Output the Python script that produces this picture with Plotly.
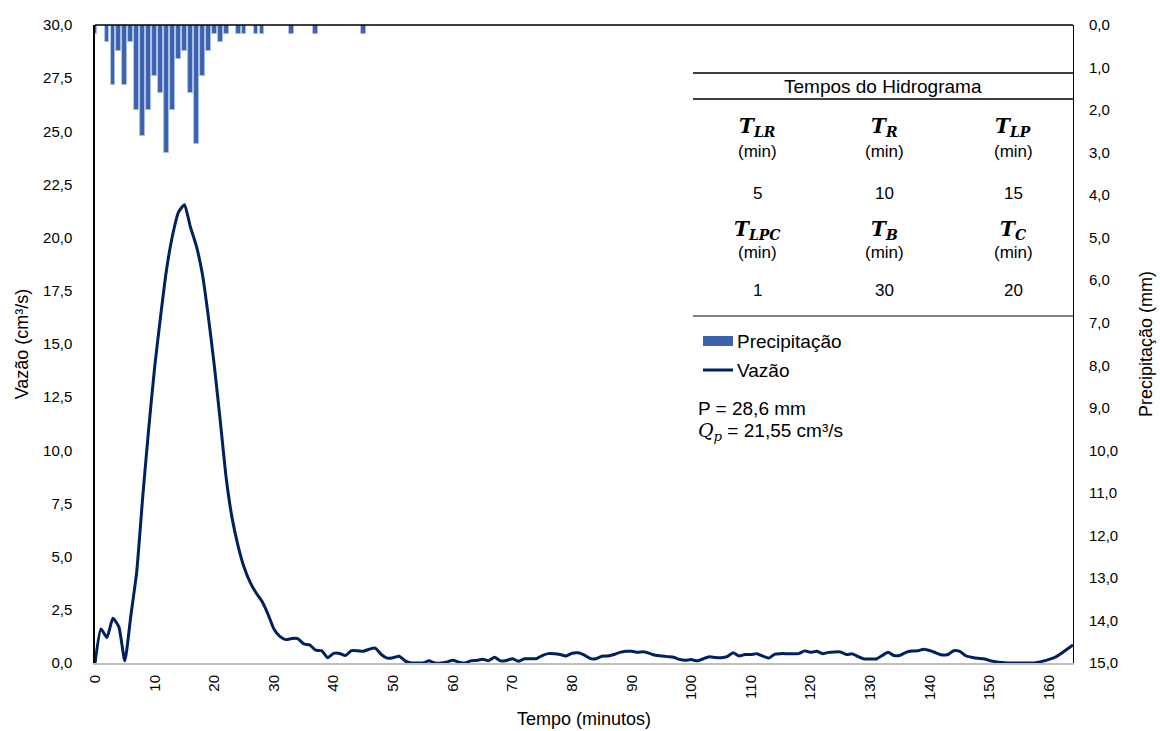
import plotly.graph_objects as go

# ---- data -------------------------------------------------------------
# Hydrograph: discharge (cm³/s) sampled every minute, 0..164 min
minutes = list(range(0, 165))
flow = [
    0.0, 1.6, 1.2, 2.1, 1.7, 0.1, 2.2, 4.3, 7.8, 11.0,          # 0-9
    13.9, 16.3, 18.5, 20.1, 21.2, 21.55, 20.5, 19.6, 18.3, 16.3,  # 10-19
    14.0, 11.4, 8.7, 6.8, 5.5, 4.5, 3.8, 3.3, 2.9, 2.3,        # 20-29
    1.6, 1.25, 1.1, 1.15, 1.15, 0.9, 0.85, 0.6, 0.58, 0.25,    # 30-39
    0.45, 0.45, 0.35, 0.58, 0.58, 0.55, 0.65, 0.7, 0.4, 0.23,  # 40-49
    0.25, 0.32, 0.1, 0.0, 0.0, 0.0, 0.1, 0.0, 0.0, 0.05,       # 50-59
    0.13, 0.04, 0.0, 0.1, 0.12, 0.18, 0.11, 0.27, 0.1, 0.12,   # 60-69
    0.2, 0.08, 0.2, 0.2, 0.2, 0.35, 0.44, 0.44, 0.4, 0.33,     # 70-79
    0.46, 0.48, 0.38, 0.22, 0.2, 0.32, 0.33, 0.4, 0.5, 0.55,   # 80-89
    0.55, 0.5, 0.53, 0.45, 0.36, 0.33, 0.3, 0.27, 0.17, 0.13,  # 90-99
    0.16, 0.1, 0.2, 0.29, 0.26, 0.25, 0.3, 0.48, 0.33, 0.4,    # 100-109
    0.4, 0.44, 0.32, 0.23, 0.42, 0.44, 0.44, 0.44, 0.44, 0.57, # 110-119
    0.5, 0.55, 0.44, 0.5, 0.52, 0.52, 0.4, 0.43, 0.3, 0.19,    # 120-129
    0.19, 0.19, 0.35, 0.5, 0.35, 0.36, 0.5, 0.56, 0.58, 0.65,  # 130-139
    0.58, 0.48, 0.38, 0.4, 0.58, 0.55, 0.34, 0.27, 0.22, 0.2,  # 140-149
    0.12, 0.06, 0.02, 0.0, 0.0, 0.0, 0.0, 0.0, 0.03, 0.09,     # 150-159
    0.17, 0.27, 0.45, 0.65, 0.85,                              # 160-164
]

# Rainfall (mm) per minute
rain_minutes = [0, 2, 3, 4, 5, 6, 7, 8, 9, 10, 11, 12, 13, 14, 15, 16, 17,
                18, 19, 20, 21, 22, 24, 25, 27, 28, 33, 37, 45]
rain_mm = [0.2, 0.4, 1.4, 0.6, 1.4, 0.4, 2.0, 2.6, 2.0, 1.2, 1.6, 3.0, 2.0,
           0.8, 0.6, 1.6, 2.8, 1.2, 0.6, 0.2, 0.4, 0.2, 0.2, 0.2, 0.2, 0.2,
           0.2, 0.2, 0.2]

# Hydrograph time parameters (min)
table_header = "Tempos do Hidrograma"
time_symbols = [["LR", "R", "LP"], ["LPC", "B", "C"]]
time_values = [[5, 10, 15], [1, 30, 20]]

x_ticks = list(range(0, 161, 10))

# ---- styling ----------------------------------------------------------
FONT = "Liberation Sans, Arial, sans-serif"
SERIF = "DejaVu Serif, Cambria, serif"
BAR_COLOR = "#3a62ad"
LINE_COLOR = "#002060"

W, H = 1160, 731
ML, MR, MT, MB = 95, 87, 25, 68
PW, PH = W - ML - MR, H - MT - MB


def px_x(px):
    return (px - ML) / PW


def px_y(py):
    return (H - MB - py) / PH


def comma(v, nd):
    return f"{v:.{nd}f}".replace(".", ",")


fig = go.Figure()

fig.add_trace(go.Bar(
    x=rain_minutes, y=rain_mm, yaxis="y2", name="Precipitação",
    width=0.8, marker=dict(color=BAR_COLOR, line=dict(color="#b4c6e7", width=0.8)),
    showlegend=False,
))

fig.add_trace(go.Scatter(
    x=minutes, y=flow, mode="lines", name="Vazão",
    line=dict(color=LINE_COLOR, width=3, shape="spline", smoothing=0.5),
    showlegend=False,
))

fig.update_layout(
    width=W, height=H,
    margin=dict(l=ML, r=MR, t=MT, b=MB, pad=0, autoexpand=False),
    paper_bgcolor="white", plot_bgcolor="white",
    separators=",.",
    font=dict(family=FONT, size=15, color="#000"),
    bargap=0,
    xaxis=dict(
        range=[0, 164], tickvals=x_ticks, tickangle=-90,
        showgrid=False, zeroline=False, automargin=False,
        showline=True, linecolor="#bfbfbf", linewidth=2,
        ticks="", ticklabelstandoff=4,
        tickfont=dict(size=15),
        title=dict(text="Tempo (minutos)", font=dict(size=18), standoff=13),
    ),
    yaxis=dict(
        range=[0, 30], dtick=2.5, tickformat=".1f",
        showgrid=False, zeroline=False, automargin=False,
        showline=True, linecolor="#000", linewidth=1.5,
        ticks="", ticklabelstandoff=18,
        tickfont=dict(size=15),
        title=dict(text="Vazão (cm³/s)", font=dict(size=18), standoff=10),
    ),
    yaxis2=dict(
        range=[15, 0], dtick=1, tickformat=".1f",
        overlaying="y", side="right",
        showgrid=False, zeroline=False, automargin=False,
        showline=True, linecolor="#000", linewidth=1,
        ticks="", ticklabelstandoff=12,
        tickfont=dict(size=15),
        title=dict(text="Precipitação (mm)", font=dict(size=18), standoff=22),
    ),
)

shapes = []
annotations = []

# top border of the plot area
shapes.append(dict(type="line", xref="paper", yref="paper", x0=0, x1=1, y0=1, y1=1,
                   line=dict(color="#000", width=1.5)))

# table rules
for py, lw in [(73, 1.5), (99, 1.5), (316, 1)]:
    shapes.append(dict(type="line", xref="paper", yref="paper",
                       x0=px_x(693), x1=px_x(1073), y0=px_y(py), y1=px_y(py),
                       line=dict(color="#000", width=lw)))

annotations.append(dict(text=table_header, x=px_x(883), y=px_y(87),
                        xref="paper", yref="paper", showarrow=False,
                        font=dict(size=19), xanchor="center", yanchor="middle"))

col_x = [757, 884, 1013]
row_sym_y = [127, 230]
row_min_y = [151, 253]
row_val_y = [193, 291]
for r in range(2):
    for c in range(3):
        sym = f"<b><i>T</i></b><sub><b><i>{time_symbols[r][c]}</i></b></sub>"
        annotations.append(dict(text=sym, x=px_x(col_x[c]), y=px_y(row_sym_y[r]),
                                xref="paper", yref="paper", showarrow=False,
                                font=dict(family=SERIF, size=20),
                                xanchor="center", yanchor="middle"))
        annotations.append(dict(text="(min)", x=px_x(col_x[c]), y=px_y(row_min_y[r]),
                                xref="paper", yref="paper", showarrow=False,
                                font=dict(size=17), xanchor="center", yanchor="middle"))
        annotations.append(dict(text=str(time_values[r][c]), x=px_x(col_x[c]),
                                y=px_y(row_val_y[r]), xref="paper", yref="paper",
                                showarrow=False, font=dict(size=17),
                                xanchor="center", yanchor="middle"))

# legend
shapes.append(dict(type="rect", xref="paper", yref="paper",
                   x0=px_x(703), x1=px_x(733), y0=px_y(346), y1=px_y(336),
                   fillcolor=BAR_COLOR, line=dict(width=0)))
shapes.append(dict(type="line", xref="paper", yref="paper",
                   x0=px_x(703), x1=px_x(733), y0=px_y(370), y1=px_y(370),
                   line=dict(color=LINE_COLOR, width=3)))
for label, py in [("Precipitação", 341), ("Vazão", 370)]:
    annotations.append(dict(text=label, x=px_x(735), y=px_y(py),
                            xref="paper", yref="paper", showarrow=False,
                            font=dict(size=19), xanchor="left", yanchor="middle"))

# summary values
p_total = sum(rain_mm)
q_peak = max(flow)
annotations.append(dict(text=f"P = {comma(p_total, 1)} mm", x=px_x(696), y=px_y(408),
                        xref="paper", yref="paper", showarrow=False,
                        font=dict(size=19), xanchor="left", yanchor="middle"))
annotations.append(dict(
    text=(f"<span style='font-family:{SERIF}'><i>Q</i><sub><i>p</i></sub></span>"
          f" = {comma(q_peak, 2)} cm³/s"),
    x=px_x(696), y=px_y(431), xref="paper", yref="paper", showarrow=False,
    font=dict(size=19), xanchor="left", yanchor="middle"))

fig.update_layout(shapes=shapes, annotations=annotations)

fig.write_html("out.html")
